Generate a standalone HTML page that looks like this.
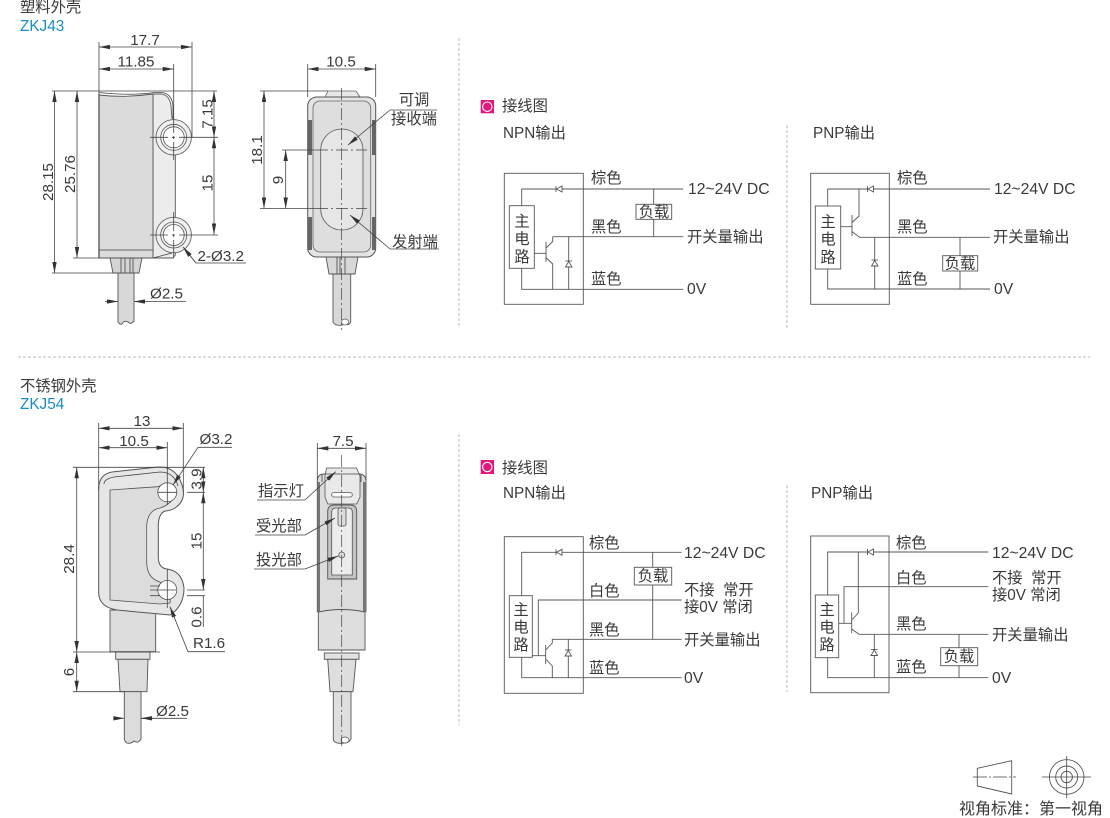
<!DOCTYPE html>
<html><head><meta charset="utf-8"><style>
html,body{margin:0;padding:0;background:#fff}
svg{display:block}
text{font-family:"Liberation Sans","Noto Sans CJK SC",sans-serif;font-size:15.3px;fill:#3a3a3a}
.d{font-size:15.2px}
.l{font-size:15.7px}
.m{text-anchor:middle}
.b{fill:#1a8cc6}
.w{fill:none;stroke:#555;stroke-width:.9}
.k{fill:none;stroke:#444;stroke-width:.8}
.o{stroke:#555;stroke-width:.9}
.a{fill:none;stroke:#444;stroke-width:.8;marker-start:url(#ar);marker-end:url(#ar)}
.e{fill:none;stroke:#444;stroke-width:.8;marker-end:url(#ar)}
.cl{fill:none;stroke:#444;stroke-width:.7;stroke-dasharray:12 3 2 3}
.g{fill:none;stroke:#bbb;stroke-width:1;stroke-dasharray:3 2}
.n{fill:#fff;stroke:#555;stroke-width:.9}
</style></head><body>
<svg width="1110" height="818" viewBox="0 0 1110 818" xmlns="http://www.w3.org/2000/svg">
<defs>
<marker id="ar" viewBox="0 0 10 4" refX="10" refY="2" markerWidth="11" markerHeight="4.400" markerUnits="userSpaceOnUse" orient="auto-start-reverse"><path d="M0,0L10,2L0,4z" fill="#333"/></marker>
</defs>

<!-- separators -->
<path class="g" d="M459 38V328M787 125V330M18 357H1090M459 434V725M787 485V692"/>

<!-- headings -->
<text x="20" y="12">塑料外壳</text>
<text x="20" y="31" class="b">ZKJ43</text>
<text x="20" y="391">不锈钢外壳</text>
<text x="20" y="409" class="b">ZKJ54</text>

<!-- ===== Drawing 1 ===== -->
<path d="M153 94H162Q170 96 171 106L172 118L175.300 121V255L173 258H153Z" fill="#ececec" stroke="#555" stroke-width=".9"/>
<path d="M99 95Q125 98 153 94V258H99Z" fill="#dbdbdc" stroke="#555" stroke-width=".9"/>
<path d="M99 94V258" stroke="#666" stroke-width="1.500"/>
<path class="k" d="M99 92.500Q130 96 155 92.500H162Q172 94 173 106V118M99 250H153M153 258L172 253"/>
<circle cx="173.700" cy="137.300" r="17.700" fill="#f0f0f0" stroke="#666" stroke-width=".9"/>
<circle cx="173.700" cy="137.300" r="13" fill="#f4f4f4" stroke="#555" stroke-width=".8"/>
<circle cx="173.700" cy="137.300" r="10.500" fill="#fff" stroke="#555" stroke-width=".8"/>
<circle cx="173.700" cy="235" r="17.700" fill="#f0f0f0" stroke="#666" stroke-width=".9"/>
<circle cx="173.700" cy="235" r="13" fill="#f4f4f4" stroke="#555" stroke-width=".8"/>
<circle cx="173.700" cy="235" r="10.500" fill="#fff" stroke="#555" stroke-width=".8"/>
<path class="k" d="M150 137.300H168M172 137.300H175M179 137.300H198M173.700 115V133M173.700 136V139M173.700 142V160M150 235H168M172 235H175M179 235H198M173.700 212V231M173.700 234V237M173.700 240V258"/>
<path d="M110 258H142L139 273H113Z" fill="#d4d4d4" stroke="#555" stroke-width=".9"/>
<path class="k" d="M121 258V273M125 258V273M130 258V273M133 258V273"/>
<path d="M118 273H134V321Q131 325 128 322Q124 320 122 324Q120 325 118 322Z" fill="#d8d8d8" stroke="#555" stroke-width=".9"/>
<path class="k" d="M99 42V94M192 42V137M173.700 64V115M52 91H217M73 258H99M52 273H113M198 137.300H218M198 235H218"/>
<path class="a" d="M99 47H192"/>
<path class="a" d="M99 69H173.700"/>
<path class="a" d="M54.500 91V273"/>
<path class="a" d="M77 91V258"/>
<path class="a" d="M214 91V137.300"/>
<path class="a" d="M214 137.300V234.500"/>
<text class="d m" x="145" y="45">17.7</text>
<text class="d m" x="136" y="66.500">11.85</text>
<text class="d m" transform="translate(53,182) rotate(-90)">28.15</text>
<text class="d m" transform="translate(75,174) rotate(-90)">25.76</text>
<text class="d m" transform="translate(212.500,114) rotate(-90)">7.15</text>
<text class="d m" transform="translate(212.500,183) rotate(-90)">15</text>
<path class="k" d="M246 263H196L184 248"/>
<path class="e" d="M196 263L183 247"/>
<text class="d" x="197.500" y="261">2-Ø3.2</text>
<path class="e" d="M105 301.500H118"/>
<path class="e" d="M148 301.500H134"/>
<path class="k" d="M148 301.500H186"/>
<text class="d" x="150" y="298.500">Ø2.5</text>

<!-- ===== Drawing 2 ===== -->
<path d="M325 97L328 91H356L360 97Z" fill="#e8e8e8" stroke="#666" stroke-width=".8"/>
<rect x="307.700" y="97" width="68" height="160" rx="9" fill="#e4e4e4" stroke="#555" stroke-width="1"/>
<rect x="313" y="101" width="57.700" height="151" rx="7" fill="#dedede" stroke="#666" stroke-width=".8"/>
<path d="M308 120H312V155H308ZM372 120H376V155H372ZM308 217H312V250H308ZM372 217H376V250H372Z" fill="#666"/>
<rect x="320.700" y="129" width="42.300" height="101" rx="21" fill="#e6e6e6" stroke="#555" stroke-width=".8"/>
<path d="M326 257H358L355 274H329Z" fill="#d8d8d8" stroke="#555" stroke-width=".9"/>
<path class="k" d="M337 257V274M340 257V274M345 257V274"/>
<path d="M333 274H350.700V322Q349 326 345 324Q341 326 337 325Q335 325 333 322Z" fill="#d8d8d8" stroke="#555" stroke-width=".9"/>
<ellipse cx="345" cy="322" rx="3.500" ry="3" fill="#fff" stroke="#555" stroke-width=".7"/>
<path class="cl" d="M341.500 88V330M316 150H367M316 208.500H367"/>
<path class="k" d="M307.700 64V97M375.700 64V97M260 91H328M282 150H316M260 208.500H316"/>
<path class="a" d="M307.700 69H375.700"/>
<path class="a" d="M264 91V208.500"/>
<path class="a" d="M285.700 150V208.500"/>
<text class="d m" x="341" y="66.500">10.5</text>
<text class="d m" transform="translate(262,150) rotate(-90)">18.1</text>
<text class="d m" transform="translate(283,180) rotate(-90)">9</text>
<path class="k" d="M437 110H390"/>
<path class="e" d="M390 110L348 145"/>
<path class="k" d="M439 249H390"/>
<path class="e" d="M390 249L350 215"/>
<text class="m" x="414" y="105">可调</text>
<text class="m" x="414" y="124">接收端</text>
<text class="m" x="415" y="247">发射端</text>

<!-- ===== Wiring 1 ===== -->
<rect x="480.700" y="100" width="13.300" height="13.300" fill="#e3187d"/>
<circle cx="487.300" cy="106.700" r="4.700" fill="none" stroke="#fff" stroke-width="1.100"/>
<text x="502" y="111">接线图</text>
<text x="503" y="138">NPN输出</text>
<rect x="504.300" y="173.300" width="79" height="131" class="w"/>
<path class="w" d="M521.700 205.700V189H683.300M552.700 236.700H683.300M521.700 268.300V289.300H683.300M653.700 189V236.700M534.300 253.300H546M546 241.700V262M546 248L552.700 241.500V236.700M546 257.500L552.700 264V289.300M568.700 236.700V289.300"/>
<rect x="509.300" y="205.700" width="25" height="62.600" fill="#fff" class="o"/>
<text class="m" x="522" y="226.500">主</text><text class="m" x="522" y="244">电</text><text class="m" x="522" y="262">路</text>
<path class="n" d="M562 186V192L556.500 189Z"/><path class="k" d="M556 186V192"/>
<path class="n" d="M565.500 267H572L568.700 261.500Z"/><path class="k" d="M565.500 261H572"/>
<rect x="636" y="204.300" width="35.700" height="15" class="n"/>
<text class="m" x="654" y="217">负载</text>
<text x="591" y="183">棕色</text><text x="591" y="232">黑色</text><text x="591" y="284">蓝色</text>
<text class="l" x="688" y="194">12~24V DC</text><text x="687" y="242">开关量输出</text><text class="l" x="687" y="294">0V</text>

<!-- ===== Wiring 2 ===== -->
<text x="813" y="138">PNP输出</text>
<rect x="810.700" y="173.300" width="78.600" height="131" class="w"/>
<path class="w" d="M827.700 206V189H990M859 189V216L852 222.500M840.700 226.700H852M852 215V236M852 231.500L859.700 237.300H990M874.700 237.300V289M827.700 269V289H990M960 237.300V289"/>
<rect x="815.300" y="206" width="25.400" height="63" fill="#fff" class="o"/>
<text class="m" x="828" y="227">主</text><text class="m" x="828" y="244.500">电</text><text class="m" x="828" y="262.500">路</text>
<path class="n" d="M873.500 186V192L868 189Z"/><path class="k" d="M867.500 186V192"/>
<path class="n" d="M871.500 266H878L874.700 260.500Z"/><path class="k" d="M871.500 260H878"/>
<rect x="942.700" y="255.700" width="35" height="15.300" class="n"/>
<text class="m" x="960" y="268.500">负载</text>
<text x="897" y="183">棕色</text><text x="897" y="232">黑色</text><text x="897" y="284">蓝色</text>
<text class="l" x="994" y="194">12~24V DC</text><text x="993" y="242">开关量输出</text><text class="l" x="994" y="294">0V</text>

<!-- ===== Drawing 3 ===== -->
<path d="M110 610H155.700V651.700H110Z" fill="#dcdcdc" stroke="#555" stroke-width=".9"/>
<rect x="115.700" y="652" width="34.300" height="7.300" fill="#e2e2e2" stroke="#555" stroke-width=".9"/>
<path d="M118 659.300H148L147 691.700H120Z" fill="#dcdcdc" stroke="#555" stroke-width=".9"/>
<path d="M124.300 691.700H141V739Q138 744 134 741Q131 744 127 743Q125 742 124.300 739Z" fill="#dcdcdc" stroke="#555" stroke-width=".9"/>
<path d="M98.700 486.700Q100 474 112 472L158 467Q176 466 182 485Q187 500 175 508Q170 511 165 511Q158 514 158.300 527V557Q158.300 568 167 569Q182 571 184 588Q184 606 170 615L117 610Q99 607 98.700 593Z" fill="#e6e6e6" stroke="#555" stroke-width="1"/>
<path d="M110 490L158 486.700Q172 480 176 495Q170 505 160 508Q148 510 146.700 525V560Q146 578 160 582Q172 590 170 603L160 604L110 600Z" fill="#dcdcdc" stroke="#555" stroke-width=".8"/>
<path class="k" d="M104 484Q104 479 114 477L160 472Q174 472 178 486"/>
<circle cx="167.300" cy="492.300" r="9.500" fill="#fff" stroke="#555" stroke-width=".8"/>
<circle cx="167.300" cy="590" r="9.500" fill="#fff" stroke="#555" stroke-width=".8"/>
<path class="k" d="M158 492.300H177M167.300 467V505M150 590H176M150 586H160M150 595.700H160M167.300 569V608"/>
<path class="k" d="M98.700 423V490M183.300 423V492M167.300 442V467M73 467.300H205M73 652H160M73 691.700H125M187 492.300H205M187 590H205M187 595.700H205"/>
<path class="a" d="M98.700 428.300H183.300"/>
<path class="a" d="M98.700 447.700H167.300"/>
<path class="a" d="M76.700 467.300V652"/>
<path class="a" d="M76.700 652V691.700"/>
<path class="a" d="M203.300 467.300V492.300"/>
<path class="a" d="M203.300 492.300V590"/>
<path class="k" d="M203.300 596V627"/>
<text class="d m" x="142" y="426">13</text>
<text class="d m" x="134" y="446">10.5</text>
<text class="d" x="199.500" y="444">Ø3.2</text>
<path class="k" d="M232 447.300H198"/><path class="e" d="M198 447.300L173 485"/>
<text class="d m" transform="translate(74,559) rotate(-90)">28.4</text>
<text class="d m" transform="translate(74,672) rotate(-90)">6</text>
<text class="d m" transform="translate(201.500,479) rotate(-90)">3.9</text>
<text class="d m" transform="translate(201.500,541) rotate(-90)">15</text>
<text class="d m" transform="translate(201.500,617) rotate(-90)">0.6</text>
<text class="d" x="193" y="648">R1.6</text>
<path class="k" d="M225 651.700H188"/><path class="e" d="M188 651.700L170 606.700"/>
<path class="k" d="M187 718.300H141"/>
<path class="e" d="M113 718.300H124.300"/><path class="e" d="M154 718.300H141"/>
<text class="d" x="156" y="716">Ø2.5</text>

<!-- ===== Drawing 4 ===== -->
<path d="M317.300 480Q318 474 324 474H360Q366 475 366 481V611.700H317.300Z" fill="#dcdcdc" stroke="#555" stroke-width=".9"/>
<path d="M317.300 482H320V611H317.300ZM363 482H366V611H363Z" fill="#777"/>
<path d="M325 476L326.500 468H356.500L360 476V497L356.700 504H327.700L325 497Z" fill="#e9e9e9" stroke="#555" stroke-width=".8"/>
<path class="k" d="M325 474H360M322 482V474M361 482V474"/>
<path d="M327.700 511Q328 505 334 505H350Q356.700 505 356.700 511V579H327.700Z" fill="#c4c4c4" stroke="#555" stroke-width=".9"/>
<path d="M331.700 512Q332 508 336 508H348Q352.300 508 352.300 512V575H331.700Z" fill="#ececec" stroke="#555" stroke-width=".8"/>
<rect x="331.700" y="492.500" width="20.600" height="4.500" rx="2.200" fill="#fff" stroke="#555" stroke-width=".8"/>
<rect x="338" y="508" width="8" height="18" rx="2" fill="#ddd" stroke="#555" stroke-width=".8"/>
<circle cx="341.700" cy="555" r="3" fill="#ddd" stroke="#555" stroke-width=".8"/>
<path d="M318.300 612Q342 607 365 612V650H318.300Z" fill="#dedede" stroke="#555" stroke-width=".9"/>
<rect x="324.300" y="653" width="34.700" height="6.300" fill="#e2e2e2" stroke="#555" stroke-width=".9"/>
<path d="M327.700 659.300H356L353 691.700H330Z" fill="#dedede" stroke="#555" stroke-width=".9"/>
<path d="M333.300 691.700H351V739Q349 743 344 743Q338 744 335 742Q333.300 741 333.300 739Z" fill="#dedede" stroke="#555" stroke-width=".9"/>
<ellipse cx="345" cy="740" rx="4" ry="3" fill="#fff" stroke="#555" stroke-width=".7"/>
<path class="cl" d="M341.700 455V746"/>
<path class="k" d="M317.300 443V480M366 443V480"/>
<path class="a" d="M317.300 448.300H366"/>
<text class="d m" x="343" y="446">7.5</text>
<path class="k" d="M257 500H305"/><path class="e" d="M305 500L335.700 471.700"/>
<path class="k" d="M255 535H305"/><path class="e" d="M305 535L335 518"/>
<path class="k" d="M254 569H305"/><path class="e" d="M305 569L338.300 556"/>
<text x="258" y="496">指示灯</text>
<text x="256" y="531">受光部</text>
<text x="256" y="565">投光部</text>

<!-- ===== Wiring 3 ===== -->
<rect x="480.700" y="460" width="13.300" height="14" fill="#e3187d"/>
<circle cx="487.300" cy="467" r="4.700" fill="none" stroke="#fff" stroke-width="1.100"/>
<text x="502" y="473">接线图</text>
<text x="503" y="498">NPN输出</text>
<rect x="504.300" y="536.700" width="79" height="156.600" class="w"/>
<path class="w" d="M521.700 595.700V552.300H681.700M532.300 655.700H545.700M538.300 655.700V600H681.700M545.700 645V664M545.700 650L552.300 643V639.300H681.700M545.700 659L552.300 666V677.700M521.700 657.300V677.700H681.700M568.300 639.300V677.700M652.700 552.300V639.300"/>
<rect x="509.300" y="595.700" width="23" height="61.600" fill="#fff" class="o"/>
<text class="m" x="521" y="615">主</text><text class="m" x="521" y="632.500">电</text><text class="m" x="521" y="650">路</text>
<path class="n" d="M562 549.300V555.300L556.500 552.300Z"/><path class="k" d="M556 549.300V555.300"/>
<path class="n" d="M565 656H571.500L568.300 650.500Z"/><path class="k" d="M565 650H571.500"/>
<rect x="634.300" y="567.300" width="37.400" height="17.700" class="n"/>
<text class="m" x="653" y="581">负载</text>
<text x="589" y="548">棕色</text><text x="589" y="596">白色</text><text x="589" y="635">黑色</text><text x="589" y="673">蓝色</text>
<text class="l" x="684" y="558">12~24V DC</text><text x="684" y="595" xml:space="preserve">不接  常开</text><text x="684" y="612">接0V 常闭</text><text x="684" y="645">开关量输出</text><text class="l" x="684" y="683">0V</text>

<!-- ===== Wiring 4 ===== -->
<text x="811" y="498">PNP输出</text>
<rect x="810.700" y="536" width="78.300" height="156.700" class="w"/>
<path class="w" d="M827.700 595V552H988.300M858.300 552V613L851.700 620M838.700 623.300H851.700M851.700 612.300V633.300M844 623.300V586.700H988.300M851.700 629L859 634.300H988.300M874.300 634.300V677.700M827.700 657.700V677.700H988.300M959 634.300V677.700"/>
<rect x="815.300" y="595" width="23.400" height="62.700" fill="#fff" class="o"/>
<text class="m" x="827" y="615">主</text><text class="m" x="827" y="632.500">电</text><text class="m" x="827" y="650">路</text>
<path class="n" d="M873.500 549V555L868 552Z"/><path class="k" d="M867.500 549V555"/>
<path class="n" d="M871 655.500H877.500L874.300 650Z"/><path class="k" d="M871 649.500H877.500"/>
<rect x="940.700" y="647.700" width="37" height="18" class="n"/>
<text class="m" x="959" y="661.500">负载</text>
<text x="896" y="548">棕色</text><text x="896" y="583">白色</text><text x="896" y="629">黑色</text><text x="896" y="672">蓝色</text>
<text class="l" x="992" y="558">12~24V DC</text><text x="992" y="583" xml:space="preserve">不接  常开</text><text x="992" y="600">接0V 常闭</text><text x="992" y="640">开关量输出</text><text class="l" x="992" y="683">0V</text>

<!-- ===== View symbol ===== -->
<path class="w" d="M977.300 768.300L1011.700 760.700V794L977.300 786Z"/>
<path class="cl" style="stroke-dasharray:14 2 2 2" d="M973 777H1016"/>
<circle cx="1066.700" cy="777" r="17.300" class="w"/>
<circle cx="1066.700" cy="777" r="11" class="w"/>
<circle cx="1066.700" cy="777" r="5.700" class="w"/>
<path class="k" d="M1042 777H1091M1066.700 756V798"/>
<text x="959" y="814" style="font-size:16px">视角标准：第一视角</text>
</svg>
</body></html>
